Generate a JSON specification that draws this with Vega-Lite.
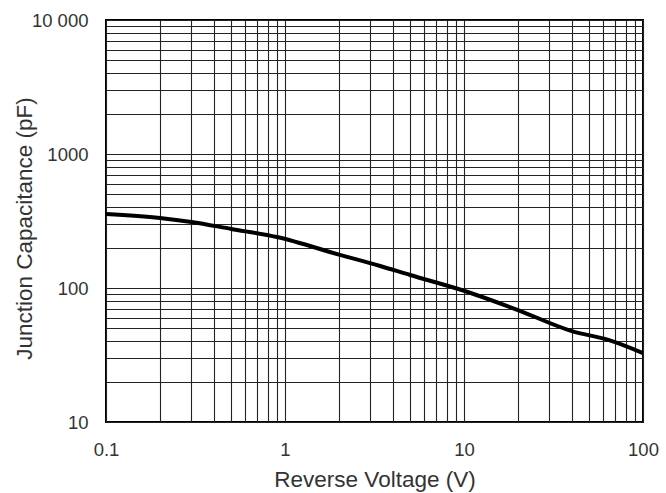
{
  "$schema": "https://vega.github.io/schema/vega-lite/v6.json",
  "autosize": "none",
  "width": 537,
  "height": 402,
  "padding": {"left": 106, "top": 20, "right": 23, "bottom": 71},
  "background": "white",
  "config": {
    "font": "Liberation Sans",
    "view": {"stroke": "black", "strokeWidth": 2},
    "axis": {"grid": true, "gridColor": "#222", "gridWidth": 1.1, "gridOpacity": 1, "domain": false, "ticks": false, "labelFontSize": 18.5, "labelColor": "#333", "titleFontSize": 22.5, "titleFontWeight": "normal", "titleColor": "#333", "labelFlush": false}
  },
  "data": {"values": [
    {"v": 0.1, "c": 357},
    {"v": 0.2, "c": 333},
    {"v": 0.3, "c": 311},
    {"v": 0.5, "c": 276},
    {"v": 0.9, "c": 240},
    {"v": 2.05, "c": 176},
    {"v": 3.4, "c": 146},
    {"v": 5, "c": 125},
    {"v": 9.6, "c": 97},
    {"v": 20, "c": 68.5},
    {"v": 40, "c": 47.7},
    {"v": 64, "c": 41},
    {"v": 100, "c": 32.7}
  ]},
  "mark": {"type": "line", "color": "black", "strokeWidth": 4, "clip": true, "interpolate": "monotone"},
  "encoding": {
    "x": {"field": "v", "type": "quantitative", "title": "Reverse Voltage (V)",
      "scale": {"type": "log", "domain": [0.1, 100], "nice": false},
      "axis": {"values": [0.1,0.2,0.3,0.4,0.5,0.6,0.7,0.8,0.9,1,2,3,4,5,6,7,8,9,10,20,30,40,50,60,70,80,90,100],
        "labelExpr": "indexof([0.1,1,10,100], datum.value) >= 0 ? datum.label : ''",
        "labelPadding": 18, "titlePadding": 10}},
    "y": {"field": "c", "type": "quantitative", "title": "Junction Capacitance (pF)",
      "scale": {"type": "log", "domain": [10, 10000], "nice": false},
      "axis": {"values": [10,20,30,40,50,60,70,80,90,100,200,300,400,500,600,700,800,900,1000,2000,3000,4000,5000,6000,7000,8000,9000,10000],
        "labelExpr": "datum.value == 10000 ? '10 000' : (indexof([10,100,1000], datum.value) >= 0 ? '' + datum.value : '')",
        "labelPadding": 18, "titleX": -82, "titleY": 208, "titleBaseline": "middle", "titleAlign": "center", "titleAngle": -90}}
  }
}
